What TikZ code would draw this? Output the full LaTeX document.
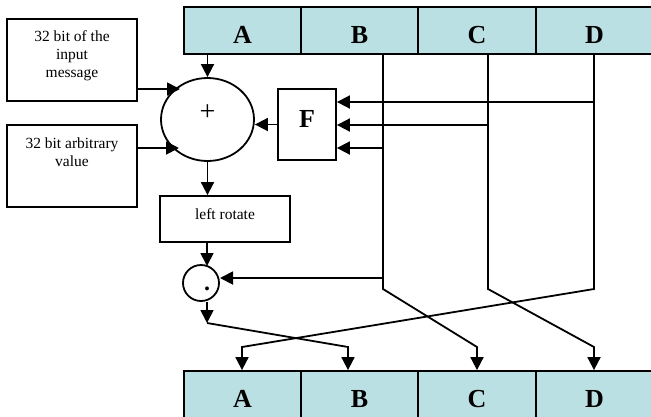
\documentclass[tikz,border=0pt]{standalone}
\usepackage{fontspec}
\setmainfont{Liberation Serif}
\usetikzlibrary{arrows.meta,shapes.geometric}
\definecolor{cellfill}{RGB}{187,224,227}
\begin{document}
\begin{tikzpicture}[x=1pt,y=-1pt, line width=1.8pt,
 cell/.style={draw, fill=cellfill, minimum width=117pt, minimum height=47pt, inner sep=0pt,
   font=\fontsize{26}{30}\selectfont\bfseries, text height=26pt, text depth=0pt},
 box/.style={draw, inner sep=0pt},
 arr/.style={-{Triangle[length=13pt,width=13pt]}},
 txt/.style={font=\fontsize{15.5}{18}\selectfont, inner sep=0pt, align=center}]
\useasboundingbox (0,0) rectangle (651,416);
\clip (0,0) rectangle (651,416);

% registers
\node[cell] (tA) at (242.5,30.5) {A};
\node[cell] (tB) at (359.5,30.5) {B};
\node[cell] (tC) at (477,30.5) {C};
\node[cell] (tD) at (594.5,30.5) {D};
\node[cell] (bA) at (242.5,394.5) {A};
\node[cell] (bB) at (359.5,394.5) {B};
\node[cell] (bC) at (477,394.5) {C};
\node[cell] (bD) at (594.5,394.5) {D};

% input boxes
\node[box, minimum width=130pt, minimum height=82pt] (msg) at (72,60) {};
\node[txt, anchor=north] (msgt) at (72,30) {32 bit of the\\input\\message};
\node[box, minimum width=130pt, minimum height=82pt] (arb) at (72,166) {};
\node[txt, anchor=north] (arbt) at (72,136.5) {32 bit arbitrary\\value};

% adder
\node[draw, ellipse, minimum width=93pt, minimum height=83pt, inner sep=0pt,
  font=\fontsize{28}{30}\selectfont, text height=14pt, text depth=12pt] (plus) at (207.5,119.5) {+};

% F box
\node[box, minimum width=58pt, minimum height=71pt, font=\fontsize{26}{30}\selectfont\bfseries,
  text height=17pt, text depth=12pt] (F) at (307,124.5) {F};

% left rotate
\node[box, minimum width=130pt, minimum height=46pt, font=\fontsize{15.5}{18}\selectfont,
  text height=11pt, text depth=11pt] (lr) at (225,219) {left rotate};

% dot operator
\node[draw, circle, minimum size=36pt, inner sep=0pt] (dot) at (201,283) {};
\node[font=\fontsize{24}{26}\selectfont\bfseries, inner sep=0pt, anchor=base] (dott) at (207,290) {.};

% coordinates
\coordinate (pm) at (180,89);
\coordinate (pa) at (179,148);
\coordinate (b1) at (383,289);
\coordinate (b2) at (477,347);
\coordinate (c1) at (488,289);
\coordinate (c2) at (594,347);
\coordinate (d1) at (594,289);
\coordinate (d2) at (242,347);
\coordinate (fd) at (594,102);
\coordinate (fc) at (488,125);
\coordinate (fb) at (383,148);
\coordinate (db) at (383,278);
\coordinate (dr) at (220,278);
\coordinate (dt) at (207,266);
\coordinate (m0) at (207,323);
\coordinate (m1) at (348,347);

% connectors
\draw[arr] (plus.north |- tA.south) -- (plus.north);
\draw[arr] (plus.south) -- (lr.north -| plus.south);
\draw[arr] (msg.east |- pm) -- (pm);
\draw[arr] (arb.east |- pa) -- (pa);
\draw[arr] (F.west) -- (plus.east |- F.west);
\draw[arr] (tB.south -| b1) -- (b1) -- (b2) -- (bC.north -| b2);
\draw[arr] (tC.south -| c1) -- (c1) -- (c2) -- (bD.north -| c2);
\draw[arr] (tD.south -| d1) -- (d1) -- (d2) -- (bA.north -| d2);
\draw[arr] (fd) -- (F.east |- fd);
\draw[arr] (fc) -- (F.east |- fc);
\draw[arr] (fb) -- (F.east |- fb);
\draw[arr] (db) -- (dr);
\draw[arr] (lr.south -| dt) -- (dt);
\draw[arr] (dot.south -| m0) -- (m0);
\draw[arr] (m0) -- (m1) -- (bB.north -| m1);
\end{tikzpicture}
\end{document}
